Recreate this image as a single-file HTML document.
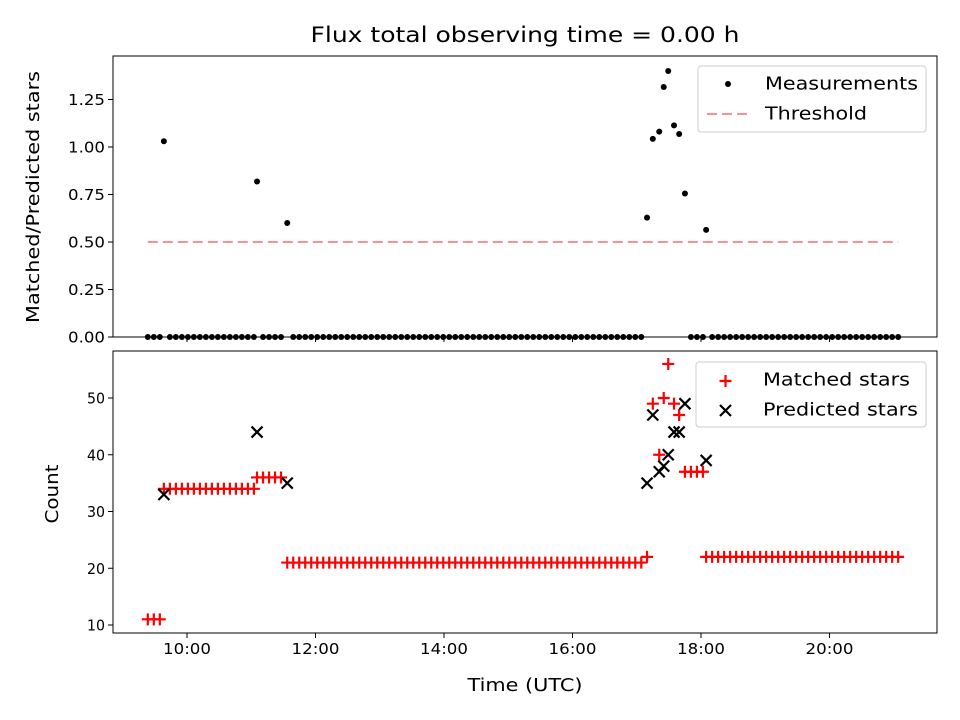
<!DOCTYPE html>
<html><head><meta charset="utf-8"><style>
html,body{margin:0;padding:0;background:#fff;}
svg{display:block;font-family:"DejaVu Sans","Liberation Sans",sans-serif;}
</style></head><body>
<svg id="chart" width="960" height="720" viewBox="0 0 960 720">
<rect width="960" height="720" fill="#fff"/>
<text x="525" y="42" text-anchor="middle" font-size="21" textLength="429" lengthAdjust="spacingAndGlyphs">Flux total observing time = 0.00 h</text>
<g id="topPanel"></g>
<g id="botPanel"></g>
<text x="525" y="691" text-anchor="middle" font-size="18" textLength="115" lengthAdjust="spacingAndGlyphs">Time (UTC)</text>
<text transform="translate(39,197) rotate(-90)" text-anchor="middle" font-size="18" textLength="252" lengthAdjust="spacingAndGlyphs">Matched/Predicted stars</text>
<text transform="translate(58,494) rotate(-90)" text-anchor="middle" font-size="18" textLength="59" lengthAdjust="spacingAndGlyphs">Count</text>
<g>
<rect x="698" y="66" width="228" height="66" rx="3" fill="#fff" fill-opacity="0.8" stroke="#ccc"/>
<circle cx="728" cy="84" r="3" fill="#000"/>
<text x="765" y="89.5" font-size="18" textLength="153" lengthAdjust="spacingAndGlyphs">Measurements</text>
<line x1="707" x2="749" y1="114" y2="114" stroke="#ff8080" stroke-width="1.8" stroke-dasharray="10,5"/>
<text x="765" y="119.5" font-size="18" textLength="102" lengthAdjust="spacingAndGlyphs">Threshold</text>
</g>
<g>
<rect x="696" y="362" width="230" height="65" rx="3" fill="#fff" fill-opacity="0.8" stroke="#ccc"/>
<path d="M719.5,381H731.5M725.5,375V387" stroke="#f00" stroke-width="2.2"/>
<text x="763" y="385.5" font-size="18" textLength="147" lengthAdjust="spacingAndGlyphs">Matched stars</text>
<path d="M720,405L731,416M720,416L731,405" stroke="#000" stroke-width="2.2"/>
<text x="763" y="415.5" font-size="18" textLength="155" lengthAdjust="spacingAndGlyphs">Predicted stars</text>
</g>
</svg>
<script>
// ---- data ----
const runStart = [9.39, 9.64, 11.09, 11.56, 17.75, 18.08];
const runCount = [3, 16, 5, 60, 4, 33];
const runValue = [11, 34, 36, 21, 37, 22];
const runStep = 0.0934;
const peakTimes = [17.16, 17.25, 17.35, 17.42, 17.49, 17.58, 17.66];
const peakMatched = [22, 49, 40, 50, 56, 49, 47];
const predTimes = [9.64, 11.09, 11.56, 17.16, 17.25, 17.35, 17.42, 17.49, 17.58, 17.66, 17.75, 18.08];
const predValues = [33, 44, 35, 35, 47, 37, 38, 40, 44, 44, 49, 39];
const threshold = 0.5;
const xTickHours = [10, 12, 14, 16, 18, 20];
const xTickLabels = ["10:00", "12:00", "14:00", "16:00", "18:00", "20:00"];
const topTicks = [0, 0.25, 0.5, 0.75, 1.0, 1.25];
const topTickLabels = ["0.00", "0.25", "0.50", "0.75", "1.00", "1.25"];
const botTicks = [10, 20, 30, 40, 50];
const botTickLabels = ["10", "20", "30", "40", "50"];

(function () {
  const L = 113, R = 937, T1 = 56, B1 = 337, T2 = 351, B2 = 633;
  const X = h => 187 + (h - 10) * 64.25;
  const Y1 = v => 337 - v * 190;
  const Y2 = c => 625 - (c - 10) * 5.675;
  const NS = "http://www.w3.org/2000/svg";
  function mk(tag, attrs, parent) {
    const e = document.createElementNS(NS, tag);
    for (const k in attrs) e.setAttribute(k, attrs[k]);
    parent.appendChild(e);
    return e;
  }
  const mT = [], mV = [];
  runStart.forEach((s, i) => { for (let j = 0; j < runCount[i]; j++) { mT.push(s + j * runStep); mV.push(runValue[i]); } });
  peakTimes.forEach((t, i) => { mT.push(t); mV.push(peakMatched[i]); });
  const ratio = mT.map((t, i) => {
    const k = predTimes.findIndex(p => Math.abs(p - t) < 0.02);
    return k >= 0 ? mV[i] / predValues[k] : 0;
  });
  const gTop = document.getElementById('topPanel');
  const gBot = document.getElementById('botPanel');

  const tmin = Math.min(...mT), tmax = Math.max(...mT);
  const th = mk('line', {x1: X(tmin), x2: X(tmax), y1: Y1(threshold), y2: Y1(threshold), stroke: '#ff8080', 'stroke-width': 1.8, 'stroke-dasharray': '10,5'}, gTop);
  
  
  mT.forEach((t, i) => {
    const c = mk('circle', {cx: X(t), cy: Y1(ratio[i]), r: 3, fill: '#000'}, gTop);
    
    
  });
  mT.forEach((t, i) => {
    const x = X(t), y = Y2(mV[i]);
    const p = mk('path', {d: `M${x-6},${y}H${x+6}M${x},${y-6}V${y+6}`, stroke: '#ff0000', 'stroke-width': 2.2, fill: 'none'}, gBot);
    
    
  });
  predTimes.forEach((t, i) => {
    const x = X(t), y = Y2(predValues[i]);
    const p = mk('path', {d: `M${x-5.5},${y-5.5}L${x+5.5},${y+5.5}M${x-5.5},${y+5.5}L${x+5.5},${y-5.5}`, stroke: '#000', 'stroke-width': 2.2, fill: 'none'}, gBot);
    
    
  });
  const f1 = mk('rect', {x: L, y: T1, width: R - L, height: B1 - T1, fill: 'none', stroke: '#000', 'stroke-width': 1}, gTop);
  
  
  const f2 = mk('rect', {x: L, y: T2, width: R - L, height: B2 - T2, fill: 'none', stroke: '#000', 'stroke-width': 1}, gBot);
  
  
  xTickHours.forEach((h, i) => {
    const x = X(h);
    mk('line', {x1: x, x2: x, y1: B1, y2: B1 + 5, stroke: '#000'}, gTop);
    mk('line', {x1: x, x2: x, y1: B2, y2: B2 + 5, stroke: '#000'}, gBot);
    const t = mk('text', {x: x, y: B2 + 21, 'text-anchor': 'middle', 'font-size': 15.5, textLength: 48, lengthAdjust: 'spacingAndGlyphs'}, gBot);
    t.textContent = xTickLabels[i];
    
    
  });
  topTicks.forEach((v, i) => {
    const y = Y1(v);
    mk('line', {x1: L - 5, x2: L, y1: y, y2: y, stroke: '#000'}, gTop);
    const t = mk('text', {x: L - 8, y: y + 5.5, 'text-anchor': 'end', 'font-size': 15.5, textLength: 37, lengthAdjust: 'spacingAndGlyphs'}, gTop);
    t.textContent = topTickLabels[i];
    
    
  });
  botTicks.forEach((v, i) => {
    const y = Y2(v);
    mk('line', {x1: L - 5, x2: L, y1: y, y2: y, stroke: '#000'}, gBot);
    const t = mk('text', {x: L - 8, y: y + 5.5, 'text-anchor': 'end', 'font-size': 15.5, textLength: 18, lengthAdjust: 'spacingAndGlyphs'}, gBot);
    t.textContent = botTickLabels[i];
    
    
  });
})();
</script>
</body></html>
